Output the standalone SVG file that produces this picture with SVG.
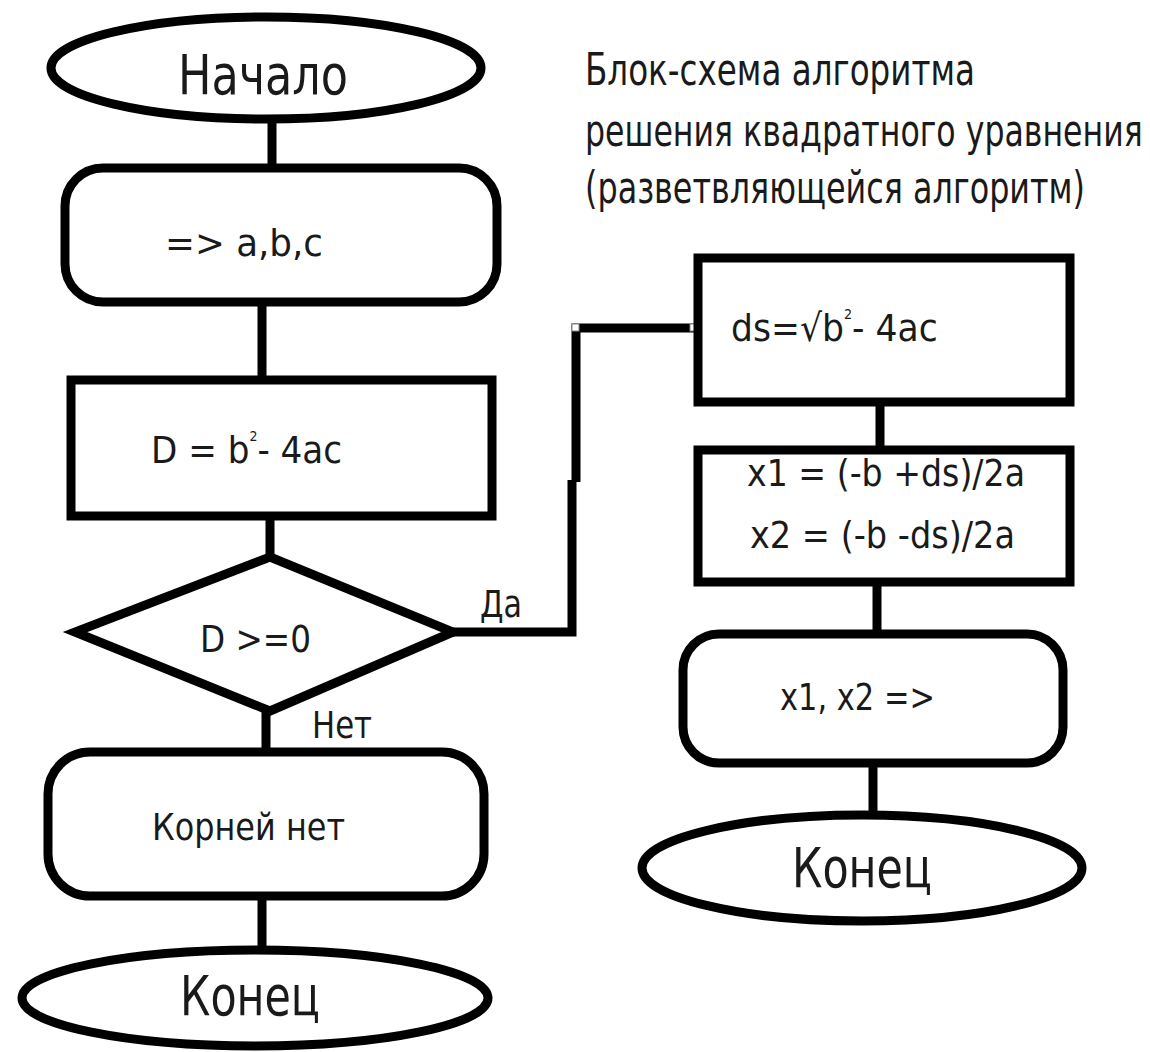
<svg xmlns="http://www.w3.org/2000/svg" width="1150" height="1052" viewBox="0 0 1150 1052">
  <style>
    .shape { fill: #ffffff; stroke: #000000; stroke-width: 9; }
    .wire { fill: none; stroke: #000000; stroke-width: 9; stroke-linejoin: miter; }
    text { font-family: "DejaVu Sans", "Liberation Sans", sans-serif; fill: #1a1a1a; }
    .big { font-size: 56px; }
    .mid { font-size: 38px; }
    .title { font-size: 44px; }
    .handle { fill: #ffffff; stroke: #888888; stroke-width: 1; }
  </style>

  <rect width="1150" height="1052" fill="#ffffff"/>

  <!-- connectors -->
  <g id="connectors">
    <line class="wire" x1="272" y1="121" x2="272" y2="168"/>
    <line class="wire" x1="262" y1="302" x2="262" y2="380"/>
    <line class="wire" x1="270" y1="516" x2="270" y2="557"/>
    <polyline class="wire" points="452,632 572,632 572,480"/>
    <polyline class="wire" points="576,482 576,328 695,328"/>
    <line class="wire" x1="880" y1="402" x2="880" y2="450"/>
    <line class="wire" x1="877" y1="582" x2="877" y2="634"/>
    <line class="wire" x1="873" y1="763" x2="873" y2="814"/>
    <line class="wire" x1="266" y1="711" x2="266" y2="752"/>
    <line class="wire" x1="262" y1="896" x2="262" y2="952"/>
    <rect class="handle" x="572" y="324" width="7" height="7"/>
    <rect class="handle" x="690" y="324" width="7" height="7"/>
  </g>

  <!-- heading, drawn in a narrowed face -->
  <g id="title">
    <text class="title" transform="translate(585,85) scale(0.74,1)" textLength="527" lengthAdjust="spacingAndGlyphs">Блок-схема  алгоритма</text>
    <text class="title" transform="translate(585,146) scale(0.73,1)" textLength="764" lengthAdjust="spacingAndGlyphs">решения квадратного уравнения</text>
    <text class="title" transform="translate(585,203) scale(0.73,1)" textLength="685" lengthAdjust="spacingAndGlyphs">(разветвляющейся алгоритм)</text>
  </g>

  <g id="start">
    <ellipse class="shape" cx="266" cy="68" rx="215" ry="51"/>
    <text class="big" x="178" y="94" textLength="170" lengthAdjust="spacingAndGlyphs">Начало</text>
  </g>

  <g id="input">
    <rect class="shape" x="65" y="168" width="432" height="134" rx="38" ry="38"/>
    <text class="mid" x="165" y="256" textLength="158" lengthAdjust="spacingAndGlyphs">=&gt; a,b,c</text>
  </g>

  <g id="discriminant">
    <rect class="shape" x="71" y="380" width="421" height="136"/>
    <text class="mid" transform="translate(151,463) scale(0.9,1)">D = b<tspan font-size="14" dy="-22">2</tspan><tspan dy="22">- 4ac</tspan></text>
  </g>

  <g id="check">
    <polygon class="shape" points="270,557 453,632 270,711 75,632"/>
    <text class="mid" x="200" y="652" textLength="111" lengthAdjust="spacingAndGlyphs">D &gt;=0</text>
    <text class="mid" x="480" y="617" textLength="42" lengthAdjust="spacingAndGlyphs">Да</text>
    <text class="mid" x="312" y="738" textLength="60" lengthAdjust="spacingAndGlyphs">Нет</text>
  </g>

  <g id="no-roots">
    <rect class="shape" x="48" y="752" width="436" height="144" rx="42" ry="42"/>
    <text class="mid" x="152" y="840" textLength="193" lengthAdjust="spacingAndGlyphs">Корней нет</text>
  </g>

  <g id="end-left">
    <ellipse class="shape" cx="255" cy="998" rx="233" ry="48"/>
    <text class="big" x="180" y="1015" textLength="140" lengthAdjust="spacingAndGlyphs">Конец</text>
  </g>

  <g id="root">
    <rect class="shape" x="698" y="258" width="372" height="144"/>
    <text class="mid" transform="translate(731,341) scale(0.91,1)">ds=√b<tspan font-size="14" dy="-22">2</tspan><tspan dy="22">- 4ac</tspan></text>
  </g>

  <g id="roots">
    <rect class="shape" x="698" y="450" width="372" height="132"/>
    <text class="mid" x="747" y="486" textLength="278" lengthAdjust="spacingAndGlyphs">x1 = (-b +ds)/2a</text>
    <text class="mid" x="750" y="548" textLength="265" lengthAdjust="spacingAndGlyphs">x2 = (-b -ds)/2a</text>
  </g>

  <g id="output">
    <rect class="shape" x="683" y="634" width="380" height="129" rx="36" ry="36"/>
    <text class="mid" x="780" y="710" textLength="155" lengthAdjust="spacingAndGlyphs">x1, x2 =&gt;</text>
  </g>

  <g id="end-right">
    <ellipse class="shape" cx="862" cy="868" rx="220" ry="53"/>
    <text class="big" x="792" y="887" textLength="140" lengthAdjust="spacingAndGlyphs">Конец</text>
  </g>
</svg>
